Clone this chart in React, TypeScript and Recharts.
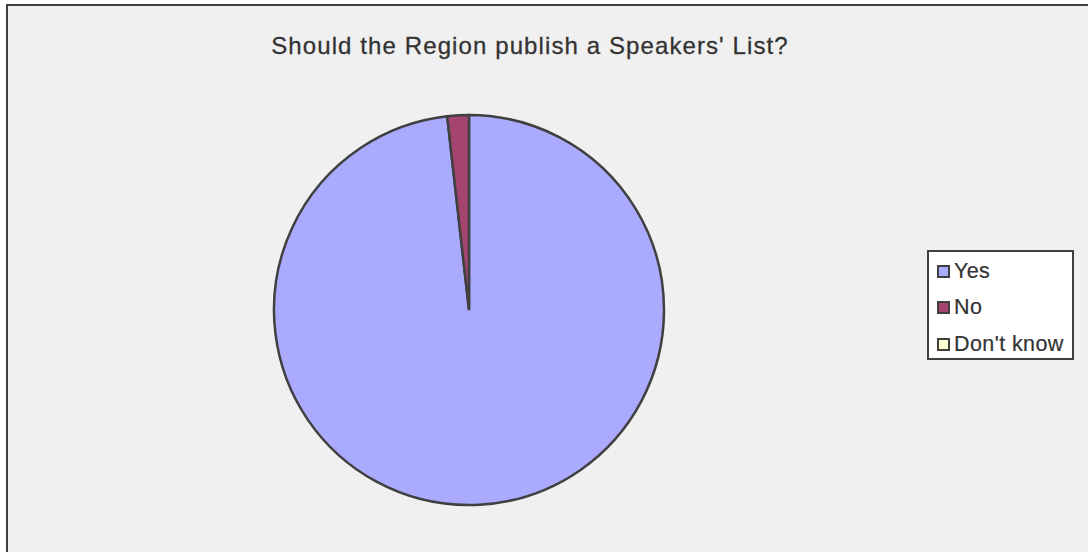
import React from "react";
import { PieChart, Pie, Cell, Legend } from "recharts";

const categories = ["Yes", "No", "Don't know"];
const values = [55, 1, 0];
const colors = ["#AAAAFF", "#A4446F", "#FFFFD0"];
const title = "Should the Region publish a Speakers' List?";

const data = categories.map((name, i) => ({ name, value: values[i] }));

const LegendBox = () => (
  <div
    style={{
      border: "2px solid #404040",
      background: "#FFFFFF",
      width: 143,
      height: 106,
      boxSizing: "content-box",
      fontFamily: "'Liberation Sans', Arial, sans-serif",
      fontSize: 21.5,
      letterSpacing: 0.4,
      color: "#333",
      WebkitTextStroke: "0.2px #333",
    }}
  >
    {categories.map((c, i) => (
      <div
        key={c}
        style={{ display: "flex", alignItems: "center", height: 36.5, marginTop: i === 0 ? 1 : 0 }}
      >
        <div
          style={{
            width: 9,
            height: 9,
            border: "2px solid #404040",
            background: colors[i],
            marginLeft: 8,
            marginRight: 4,
            flexShrink: 0,
          }}
        />
        <span>{c}</span>
      </div>
    ))}
  </div>
);

export default function App() {
  return (
    <div
      style={{
        position: "absolute",
        left: 0,
        top: 0,
        width: 1088,
        height: 552,
        overflow: "hidden",
        background: "#FFFFFF",
      }}
    >
      <div
        style={{
          position: "absolute",
          left: 6,
          top: 4,
          width: 1200,
          height: 700,
          background: "#F0F0F0",
          borderLeft: "2px solid #404040",
          borderTop: "2px solid #404040",
        }}
      />
      <div
        style={{
          position: "absolute",
          left: 0,
          top: 32,
          width: 1060,
          textAlign: "center",
          fontFamily: "'Liberation Sans', Arial, sans-serif",
          fontSize: 24,
          color: "#333",
          letterSpacing: 1.1,
          WebkitTextStroke: "0.3px #333",
        }}
      >
        {title}
      </div>
      <div style={{ position: "absolute", left: 0, top: 0 }}>
        <PieChart width={1088} height={552} margin={{ top: 0, right: 0, bottom: 0, left: 0 }}>
          <Pie
            data={data}
            dataKey="value"
            nameKey="name"
            cx={469}
            cy={310}
            outerRadius={195}
            innerRadius={0}
            startAngle={90}
            endAngle={-270}
            stroke="#404040"
            strokeWidth={2.5}
            isAnimationActive={false}
            label={false}
            labelLine={false}
          >
            {data.map((d, i) => (
              <Cell key={d.name} fill={colors[i]} stroke="#404040" strokeWidth={2.5} />
            ))}
          </Pie>
          <Legend
            content={<LegendBox />}
            layout="vertical"
            wrapperStyle={{ position: "absolute", left: 927, top: 250, width: 147, height: 110 }}
          />
        </PieChart>
      </div>
    </div>
  );
}
